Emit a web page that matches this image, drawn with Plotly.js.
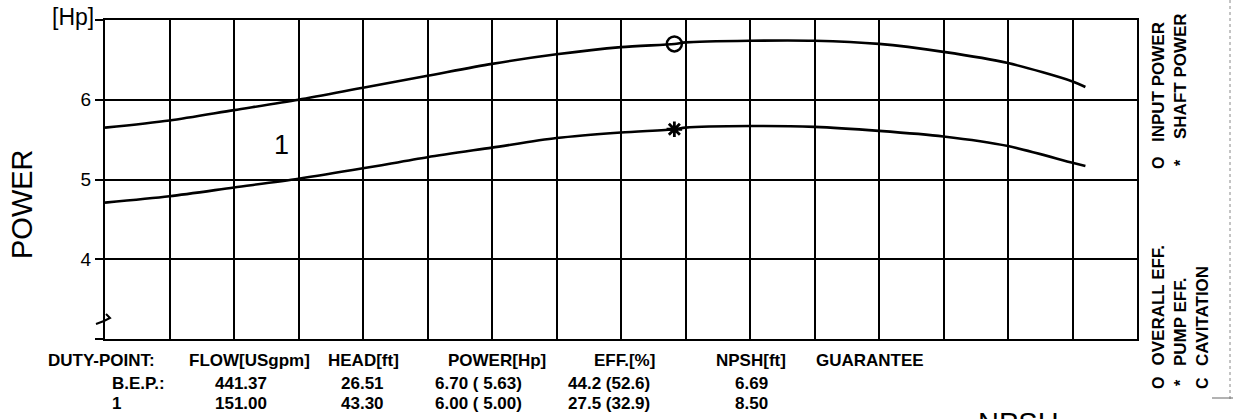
<!DOCTYPE html>
<html>
<head>
<meta charset="utf-8">
<script src="https://cdn.plot.ly/plotly-3.0.1.min.js"></script>
<style>
  html, body { margin: 0; padding: 0; background: #fff; }
  #chart { width: 1233px; height: 419px; }
</style>
</head>
<body>
<div id="chart"></div>
<script>
// ---- data ----
const flow        = [0, 50, 100, 150, 200, 250, 300, 350, 400, 441.37, 450, 500, 550, 600, 650, 700, 750, 760];
const inputPower  = [5.65, 5.74, 5.87, 6.00, 6.15, 6.30, 6.45, 6.57, 6.66, 6.70, 6.72, 6.74, 6.74, 6.70, 6.60, 6.46, 6.23, 6.16];
const shaftPower  = [4.71, 4.79, 4.90, 5.01, 5.14, 5.28, 5.40, 5.52, 5.59, 5.63, 5.65, 5.67, 5.66, 5.61, 5.54, 5.42, 5.21, 5.17];

const yTickVals   = [3, 4, 5, 6, 7];
const yTickText   = ['', '4', '5', '6', ''];

const dutyLabels  = ['B.E.P.:', '1'];
const dutyFlow    = [441.37, 151.00];
const dutyHead    = [26.51, 43.30];
const dutyInput   = [6.70, 6.00];
const dutyShaft   = [5.63, 5.00];
const effOverall  = [44.2, 27.5];
const effPump     = [52.6, 32.9];
const dutyNpsh    = [6.69, 8.50];

const tableHeaders = ['DUTY-POINT:', 'FLOW[USgpm]', 'HEAD[ft]', 'POWER[Hp]', 'EFF.[%]', 'NPSH[ft]', 'GUARANTEE'];

// ---- geometry helpers (pixel -> paper) ----
const L = 105, R = 1137, T = 20, B = 339;
const px = x => (x - L) / (R - L);
const py = y => (B - y) / (B - T);

const FONT = 'Liberation Sans, Arial, sans-serif';

const traces = [
  { x: flow, y: inputPower, mode: 'lines', line: { color: '#000', width: 2.6, shape: 'spline', smoothing: 0.8 }, hoverinfo: 'skip' },
  { x: flow, y: shaftPower, mode: 'lines', line: { color: '#000', width: 2.6, shape: 'spline', smoothing: 0.8 }, hoverinfo: 'skip' },
  { x: [dutyFlow[0]], y: [dutyInput[0]], mode: 'markers',
    marker: { symbol: 'circle-open', size: 15, color: '#000', line: { width: 2.5, color: '#000' } }, hoverinfo: 'skip' },
  { x: [dutyFlow[0]], y: [dutyShaft[0]], mode: 'markers',
    marker: { symbol: 'asterisk-open', size: 13, color: '#000', line: { width: 2.8, color: '#000' } }, hoverinfo: 'skip' }
];

const ann = [];
function txt(text, x, y, opts) {
  ann.push(Object.assign({
    text: text, xref: 'paper', yref: 'paper', x: px(x), y: py(y),
    showarrow: false, xanchor: 'center', yanchor: 'middle',
    font: { family: FONT, size: 17, color: '#000' }, borderpad: 0
  }, opts || {}));
}

// axis decorations
txt('[Hp]', 73, 17, { font: { family: FONT, size: 23, color: '#000' } });
txt('POWER', 22, 204, { textangle: -90, font: { family: FONT, size: 29, color: '#000' } });
txt('1', 281, 145, { font: { family: FONT, size: 27, color: '#000' } });
txt('NPSH', 977, 406, { xanchor: 'left', yanchor: 'top', font: { family: FONT, size: 29, color: '#000' } });

// table
const bold = s => '<b>' + s + '</b>';
const hdrX = [47, 188, 327, 447, 593, 715, 815];
tableHeaders.forEach((h, i) => txt(bold(h), hdrX[i], 360, { xanchor: 'left' }));
const rowY = [383, 403];
dutyLabels.forEach((lab, r) => {
  const y = rowY[r];
  txt(bold(lab), 111, y, { xanchor: 'left' });
  txt(bold(dutyFlow[r].toFixed(2)), 241, y);
  txt(bold(dutyHead[r].toFixed(2)), 362, y);
  txt(bold(dutyInput[r].toFixed(2) + ' ( ' + dutyShaft[r].toFixed(2) + ')'), 478, y);
  txt(bold(effOverall[r].toFixed(1) + ' (' + effPump[r].toFixed(1) + ')'), 609, y);
  txt(bold(dutyNpsh[r].toFixed(2)), 751, y);
});

// right side legend (rotated)
const leg = { textangle: -90, yanchor: 'bottom', font: { family: FONT, size: 17, color: '#000' } };
txt(bold('INPUT POWER'), 1158, 143, leg);
txt(bold('SHAFT POWER'), 1180, 140, leg);
txt(bold('OVERALL EFF.'), 1158, 367, leg);
txt(bold('PUMP EFF.'), 1180, 367, leg);
txt(bold('CAVITATION'), 1202, 367, leg);
const sym = { textangle: -90, font: { family: FONT, size: 16, color: '#000' } };
txt(bold('O'), 1158, 163, sym);
txt(bold('*'), 1180, 163, sym);
txt(bold('O'), 1158, 383, sym);
txt(bold('*'), 1180, 383, sym);
txt(bold('C'), 1202, 383, sym);

const shapes = [
  { type: 'line', xref: 'paper', yref: 'paper', x0: px(1230), x1: px(1230), y0: py(0), y1: py(400),
    line: { color: '#888', width: 1, dash: 'dot' } },
  { type: 'line', xref: 'paper', yref: 'paper', x0: px(1212), x1: px(1233), y0: py(398), y1: py(398),
    line: { color: '#666', width: 1 } },
  { type: 'path', xref: 'paper', yref: 'paper',
    path: 'M ' + px(96) + ' ' + py(324) + ' L ' + px(104) + ' ' + py(321) + ' L ' + px(110) + ' ' + py(318) + ' L ' + px(106) + ' ' + py(314),
    line: { color: '#000', width: 2 } }
];

const layout = {
  width: 1233, height: 419,
  margin: { l: L, r: 1233 - R, t: T, b: 419 - B, pad: 0 },
  paper_bgcolor: '#fff', plot_bgcolor: '#fff',
  showlegend: false,
  xaxis: {
    range: [0, 800], dtick: 50, tick0: 0,
    showgrid: true, gridcolor: '#000', gridwidth: 2,
    showticklabels: false, ticks: '',
    showline: true, mirror: true, linecolor: '#000', linewidth: 2,
    zeroline: false, fixedrange: true
  },
  yaxis: {
    range: [3, 7], tickmode: 'array', tickvals: yTickVals, ticktext: yTickText,
    showgrid: true, gridcolor: '#000', gridwidth: 2,
    ticks: 'outside', ticklen: 8, tickwidth: 2, tickcolor: '#000',
    tickfont: { family: FONT, size: 19, color: '#000' },
    showline: true, mirror: true, linecolor: '#000', linewidth: 2,
    zeroline: false, fixedrange: true
  },
  annotations: ann,
  shapes: shapes
};

Plotly.newPlot('chart', traces, layout, { displayModeBar: false, staticPlot: true });
</script>
</body>
</html>
